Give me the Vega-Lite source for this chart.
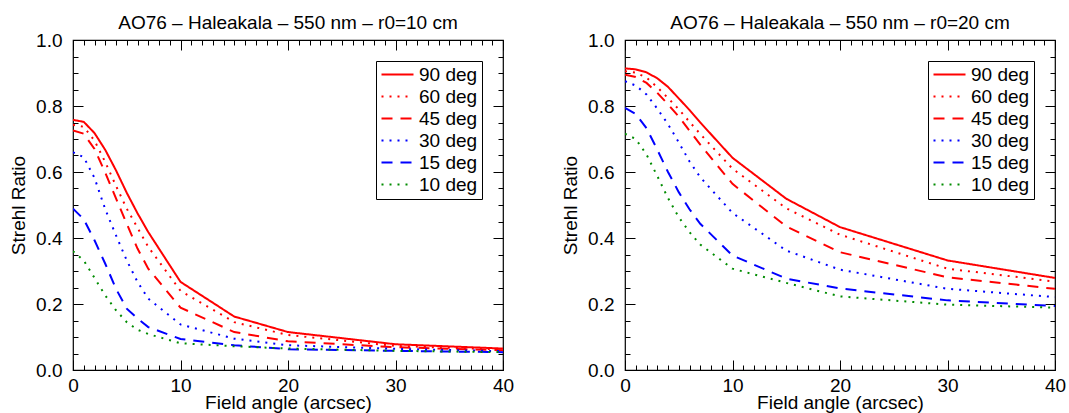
{
  "$schema": "https://vega.github.io/schema/vega-lite/v6.json",
  "background": "white",
  "padding": {"left": 8, "top": 13, "right": 5, "bottom": 0},
  "resolve": {"scale": {"color": "independent", "strokeDash": "independent"}, "legend": {"color": "independent", "strokeDash": "independent"}},
  "config": {
    "font": "Liberation Sans",
    "view": {"stroke": "black", "strokeWidth": 1.2},
    "concat": {"spacing": 45},
    "title": {"fontSize": 19, "fontWeight": "normal", "font": "Liberation Sans", "color": "black", "offset": -2},
    "axis": {"grid": false, "domain": false, "ticks": true, "tickColor": "black", "tickWidth": 1, "labelColor": "black", "labelFontSize": 19, "labelFont": "Liberation Sans", "titleFont": "Liberation Sans", "titleFontSize": 19, "titleFontWeight": "normal", "titleColor": "black", "labelOverlap": false, "labelFlush": false, "labelBound": false},
    "legend": {"orient": "top-right", "offset": 21, "strokeColor": "black", "fillColor": "white", "padding": 4, "rowPadding": 2, "title": null, "labelFontSize": 19, "labelFont": "Liberation Sans", "labelColor": "black", "symbolType": "M-1,0H3", "symbolSize": 256, "symbolStrokeWidth": 2, "labelOffset": 20, "symbolFillColor": "transparent"}
  },
  "datasets": {
    "r10": [
      {"x":0,"sr":0.758,"el":"90 deg"},{"x":1,"sr":0.752,"el":"90 deg"},{"x":2,"sr":0.718,"el":"90 deg"},{"x":3,"sr":0.667,"el":"90 deg"},{"x":4,"sr":0.605,"el":"90 deg"},{"x":5,"sr":0.537,"el":"90 deg"},{"x":6,"sr":0.475,"el":"90 deg"},{"x":7,"sr":0.418,"el":"90 deg"},{"x":10,"sr":0.267,"el":"90 deg"},{"x":15,"sr":0.162,"el":"90 deg"},{"x":20,"sr":0.115,"el":"90 deg"},{"x":30,"sr":0.078,"el":"90 deg"},{"x":40,"sr":0.065,"el":"90 deg"},
      {"x":0,"sr":0.743,"el":"60 deg"},{"x":1,"sr":0.737,"el":"60 deg"},{"x":2,"sr":0.695,"el":"60 deg"},{"x":3,"sr":0.630,"el":"60 deg"},{"x":4,"sr":0.558,"el":"60 deg"},{"x":5,"sr":0.489,"el":"60 deg"},{"x":6,"sr":0.431,"el":"60 deg"},{"x":7,"sr":0.373,"el":"60 deg"},{"x":10,"sr":0.240,"el":"60 deg"},{"x":15,"sr":0.145,"el":"60 deg"},{"x":20,"sr":0.106,"el":"60 deg"},{"x":30,"sr":0.073,"el":"60 deg"},{"x":40,"sr":0.062,"el":"60 deg"},
      {"x":0,"sr":0.726,"el":"45 deg"},{"x":1,"sr":0.716,"el":"45 deg"},{"x":2,"sr":0.670,"el":"45 deg"},{"x":3,"sr":0.598,"el":"45 deg"},{"x":4,"sr":0.520,"el":"45 deg"},{"x":5,"sr":0.443,"el":"45 deg"},{"x":6,"sr":0.368,"el":"45 deg"},{"x":7,"sr":0.307,"el":"45 deg"},{"x":10,"sr":0.189,"el":"45 deg"},{"x":15,"sr":0.115,"el":"45 deg"},{"x":20,"sr":0.087,"el":"45 deg"},{"x":30,"sr":0.069,"el":"45 deg"},{"x":40,"sr":0.060,"el":"45 deg"},
      {"x":0,"sr":0.660,"el":"30 deg"},{"x":1,"sr":0.645,"el":"30 deg"},{"x":2,"sr":0.582,"el":"30 deg"},{"x":3,"sr":0.487,"el":"30 deg"},{"x":4,"sr":0.408,"el":"30 deg"},{"x":5,"sr":0.332,"el":"30 deg"},{"x":6,"sr":0.267,"el":"30 deg"},{"x":7,"sr":0.216,"el":"30 deg"},{"x":10,"sr":0.138,"el":"30 deg"},{"x":15,"sr":0.095,"el":"30 deg"},{"x":20,"sr":0.075,"el":"30 deg"},{"x":30,"sr":0.064,"el":"30 deg"},{"x":40,"sr":0.057,"el":"30 deg"},
      {"x":0,"sr":0.489,"el":"15 deg"},{"x":1,"sr":0.457,"el":"15 deg"},{"x":2,"sr":0.393,"el":"15 deg"},{"x":3,"sr":0.322,"el":"15 deg"},{"x":4,"sr":0.246,"el":"15 deg"},{"x":5,"sr":0.186,"el":"15 deg"},{"x":6,"sr":0.156,"el":"15 deg"},{"x":7,"sr":0.130,"el":"15 deg"},{"x":10,"sr":0.094,"el":"15 deg"},{"x":15,"sr":0.075,"el":"15 deg"},{"x":20,"sr":0.063,"el":"15 deg"},{"x":30,"sr":0.058,"el":"15 deg"},{"x":40,"sr":0.054,"el":"15 deg"},
      {"x":0,"sr":0.360,"el":"10 deg"},{"x":1,"sr":0.332,"el":"10 deg"},{"x":2,"sr":0.279,"el":"10 deg"},{"x":3,"sr":0.226,"el":"10 deg"},{"x":4,"sr":0.181,"el":"10 deg"},{"x":5,"sr":0.145,"el":"10 deg"},{"x":6,"sr":0.122,"el":"10 deg"},{"x":7,"sr":0.109,"el":"10 deg"},{"x":10,"sr":0.081,"el":"10 deg"},{"x":15,"sr":0.072,"el":"10 deg"},{"x":20,"sr":0.065,"el":"10 deg"},{"x":30,"sr":0.058,"el":"10 deg"},{"x":40,"sr":0.054,"el":"10 deg"}
    ],
    "r20": [
      {"x":0,"sr":0.914,"el":"90 deg"},{"x":1,"sr":0.911,"el":"90 deg"},{"x":2,"sr":0.902,"el":"90 deg"},{"x":3,"sr":0.884,"el":"90 deg"},{"x":4,"sr":0.858,"el":"90 deg"},{"x":5,"sr":0.823,"el":"90 deg"},{"x":6,"sr":0.788,"el":"90 deg"},{"x":7,"sr":0.750,"el":"90 deg"},{"x":10,"sr":0.643,"el":"90 deg"},{"x":15,"sr":0.519,"el":"90 deg"},{"x":20,"sr":0.433,"el":"90 deg"},{"x":30,"sr":0.332,"el":"90 deg"},{"x":40,"sr":0.279,"el":"90 deg"},
      {"x":0,"sr":0.905,"el":"60 deg"},{"x":1,"sr":0.901,"el":"60 deg"},{"x":2,"sr":0.886,"el":"60 deg"},{"x":3,"sr":0.857,"el":"60 deg"},{"x":4,"sr":0.824,"el":"60 deg"},{"x":5,"sr":0.790,"el":"60 deg"},{"x":6,"sr":0.752,"el":"60 deg"},{"x":7,"sr":0.715,"el":"60 deg"},{"x":10,"sr":0.610,"el":"60 deg"},{"x":15,"sr":0.490,"el":"60 deg"},{"x":20,"sr":0.410,"el":"60 deg"},{"x":30,"sr":0.307,"el":"60 deg"},{"x":40,"sr":0.268,"el":"60 deg"},
      {"x":0,"sr":0.895,"el":"45 deg"},{"x":1,"sr":0.888,"el":"45 deg"},{"x":2,"sr":0.870,"el":"45 deg"},{"x":3,"sr":0.840,"el":"45 deg"},{"x":4,"sr":0.805,"el":"45 deg"},{"x":5,"sr":0.768,"el":"45 deg"},{"x":6,"sr":0.725,"el":"45 deg"},{"x":7,"sr":0.683,"el":"45 deg"},{"x":10,"sr":0.564,"el":"45 deg"},{"x":15,"sr":0.435,"el":"45 deg"},{"x":20,"sr":0.357,"el":"45 deg"},{"x":30,"sr":0.281,"el":"45 deg"},{"x":40,"sr":0.246,"el":"45 deg"},
      {"x":0,"sr":0.875,"el":"30 deg"},{"x":1,"sr":0.862,"el":"30 deg"},{"x":2,"sr":0.835,"el":"30 deg"},{"x":3,"sr":0.792,"el":"30 deg"},{"x":4,"sr":0.745,"el":"30 deg"},{"x":5,"sr":0.690,"el":"30 deg"},{"x":6,"sr":0.632,"el":"30 deg"},{"x":7,"sr":0.584,"el":"30 deg"},{"x":10,"sr":0.476,"el":"30 deg"},{"x":15,"sr":0.362,"el":"30 deg"},{"x":20,"sr":0.304,"el":"30 deg"},{"x":30,"sr":0.246,"el":"30 deg"},{"x":40,"sr":0.221,"el":"30 deg"},
      {"x":0,"sr":0.794,"el":"15 deg"},{"x":1,"sr":0.776,"el":"15 deg"},{"x":2,"sr":0.733,"el":"15 deg"},{"x":3,"sr":0.668,"el":"15 deg"},{"x":4,"sr":0.600,"el":"15 deg"},{"x":5,"sr":0.539,"el":"15 deg"},{"x":6,"sr":0.487,"el":"15 deg"},{"x":7,"sr":0.443,"el":"15 deg"},{"x":10,"sr":0.347,"el":"15 deg"},{"x":15,"sr":0.277,"el":"15 deg"},{"x":20,"sr":0.247,"el":"15 deg"},{"x":30,"sr":0.211,"el":"15 deg"},{"x":40,"sr":0.194,"el":"15 deg"},
      {"x":0,"sr":0.716,"el":"10 deg"},{"x":1,"sr":0.700,"el":"10 deg"},{"x":2,"sr":0.653,"el":"10 deg"},{"x":3,"sr":0.588,"el":"10 deg"},{"x":4,"sr":0.521,"el":"10 deg"},{"x":5,"sr":0.463,"el":"10 deg"},{"x":6,"sr":0.418,"el":"10 deg"},{"x":7,"sr":0.380,"el":"10 deg"},{"x":10,"sr":0.307,"el":"10 deg"},{"x":15,"sr":0.264,"el":"10 deg"},{"x":20,"sr":0.223,"el":"10 deg"},{"x":30,"sr":0.198,"el":"10 deg"},{"x":40,"sr":0.189,"el":"10 deg"}
    ]
  },
  "hconcat": [
    {
      "width": 430, "height": 330,
      "title": "AO76 – Haleakala – 550 nm – r0=10 cm",
      "data": {"name": "r10"},
      "resolve": {"axis": {"x": "independent", "y": "independent"}},
      "layer": [
        {
          "mark": {"type": "line", "strokeWidth": 2, "clip": true},
          "encoding": {
            "x": {"field": "x", "type": "quantitative", "scale": {"domain": [0, 40], "nice": false},
                  "axis": {"orient": "bottom", "title": "Field angle (arcsec)", "values": [0,10,20,30,40], "offset": -10, "tickSize": 10, "labelPadding": 6, "titlePadding": -2}},
            "y": {"field": "sr", "type": "quantitative", "scale": {"domain": [0, 1], "nice": false},
                  "axis": {"orient": "left", "title": "Strehl Ratio", "format": ".1f", "values": [0,0.2,0.4,0.6,0.8,1], "offset": -10, "tickSize": 10, "labelPadding": 11, "titlePadding": 7}},
            "color": {"field": "el", "type": "nominal", "scale": {"domain": ["90 deg","60 deg","45 deg","30 deg","15 deg","10 deg"], "range": ["#ff0000","#ff0000","#ff0000","#0000ff","#0000ff","#008c00"]}},
            "strokeDash": {"field": "el", "type": "nominal", "scale": {"domain": ["90 deg","60 deg","45 deg","30 deg","15 deg","10 deg"], "range": [[1,0],[2,6],[11,8],[2,6],[11,8],[2,6]]}}
          }
        },
        {
          "mark": {"type": "point", "opacity": 0},
          "encoding": {
            "x": {"field": "x", "type": "quantitative", "axis": {"orient": "top", "title": null, "labels": false, "values": [0,10,20,30,40], "offset": -10, "tickSize": 10}},
            "y": {"field": "sr", "type": "quantitative", "axis": {"orient": "right", "title": null, "labels": false, "values": [0,0.2,0.4,0.6,0.8,1], "offset": -10, "tickSize": 10}}
          }
        },
        {
          "mark": {"type": "point", "opacity": 0},
          "encoding": {
            "x": {"field": "x", "type": "quantitative", "axis": {"orient": "bottom", "title": null, "labels": false, "values": [1,2,3,4,5,6,7,8,9,11,12,13,14,15,16,17,18,19,21,22,23,24,25,26,27,28,29,31,32,33,34,35,36,37,38,39], "offset": -5, "tickSize": 5}},
            "y": {"field": "sr", "type": "quantitative", "axis": {"orient": "left", "title": null, "labels": false, "values": [0.05,0.1,0.15,0.25,0.3,0.35,0.45,0.5,0.55,0.65,0.7,0.75,0.85,0.9,0.95], "offset": -5, "tickSize": 5}}
          }
        },
        {
          "mark": {"type": "point", "opacity": 0},
          "encoding": {
            "x": {"field": "x", "type": "quantitative", "axis": {"orient": "top", "title": null, "labels": false, "values": [1,2,3,4,5,6,7,8,9,11,12,13,14,15,16,17,18,19,21,22,23,24,25,26,27,28,29,31,32,33,34,35,36,37,38,39], "offset": -5, "tickSize": 5}},
            "y": {"field": "sr", "type": "quantitative", "axis": {"orient": "right", "title": null, "labels": false, "values": [0.05,0.1,0.15,0.25,0.3,0.35,0.45,0.5,0.55,0.65,0.7,0.75,0.85,0.9,0.95], "offset": -5, "tickSize": 5}}
          }
        }
      ]
    },
    {
      "width": 430, "height": 330,
      "title": "AO76 – Haleakala – 550 nm – r0=20 cm",
      "data": {"name": "r20"},
      "resolve": {"axis": {"x": "independent", "y": "independent"}},
      "layer": [
        {
          "mark": {"type": "line", "strokeWidth": 2, "clip": true},
          "encoding": {
            "x": {"field": "x", "type": "quantitative", "scale": {"domain": [0, 40], "nice": false},
                  "axis": {"orient": "bottom", "title": "Field angle (arcsec)", "values": [0,10,20,30,40], "offset": -10, "tickSize": 10, "labelPadding": 6, "titlePadding": -2}},
            "y": {"field": "sr", "type": "quantitative", "scale": {"domain": [0, 1], "nice": false},
                  "axis": {"orient": "left", "title": "Strehl Ratio", "format": ".1f", "values": [0,0.2,0.4,0.6,0.8,1], "offset": -10, "tickSize": 10, "labelPadding": 11, "titlePadding": 7}},
            "color": {"field": "el", "type": "nominal", "scale": {"domain": ["90 deg","60 deg","45 deg","30 deg","15 deg","10 deg"], "range": ["#ff0000","#ff0000","#ff0000","#0000ff","#0000ff","#008c00"]}},
            "strokeDash": {"field": "el", "type": "nominal", "scale": {"domain": ["90 deg","60 deg","45 deg","30 deg","15 deg","10 deg"], "range": [[1,0],[2,6],[11,8],[2,6],[11,8],[2,6]]}}
          }
        },
        {
          "mark": {"type": "point", "opacity": 0},
          "encoding": {
            "x": {"field": "x", "type": "quantitative", "axis": {"orient": "top", "title": null, "labels": false, "values": [0,10,20,30,40], "offset": -10, "tickSize": 10}},
            "y": {"field": "sr", "type": "quantitative", "axis": {"orient": "right", "title": null, "labels": false, "values": [0,0.2,0.4,0.6,0.8,1], "offset": -10, "tickSize": 10}}
          }
        },
        {
          "mark": {"type": "point", "opacity": 0},
          "encoding": {
            "x": {"field": "x", "type": "quantitative", "axis": {"orient": "bottom", "title": null, "labels": false, "values": [1,2,3,4,5,6,7,8,9,11,12,13,14,15,16,17,18,19,21,22,23,24,25,26,27,28,29,31,32,33,34,35,36,37,38,39], "offset": -5, "tickSize": 5}},
            "y": {"field": "sr", "type": "quantitative", "axis": {"orient": "left", "title": null, "labels": false, "values": [0.05,0.1,0.15,0.25,0.3,0.35,0.45,0.5,0.55,0.65,0.7,0.75,0.85,0.9,0.95], "offset": -5, "tickSize": 5}}
          }
        },
        {
          "mark": {"type": "point", "opacity": 0},
          "encoding": {
            "x": {"field": "x", "type": "quantitative", "axis": {"orient": "top", "title": null, "labels": false, "values": [1,2,3,4,5,6,7,8,9,11,12,13,14,15,16,17,18,19,21,22,23,24,25,26,27,28,29,31,32,33,34,35,36,37,38,39], "offset": -5, "tickSize": 5}},
            "y": {"field": "sr", "type": "quantitative", "axis": {"orient": "right", "title": null, "labels": false, "values": [0.05,0.1,0.15,0.25,0.3,0.35,0.45,0.5,0.55,0.65,0.7,0.75,0.85,0.9,0.95], "offset": -5, "tickSize": 5}}
          }
        }
      ]
    }
  ]
}
